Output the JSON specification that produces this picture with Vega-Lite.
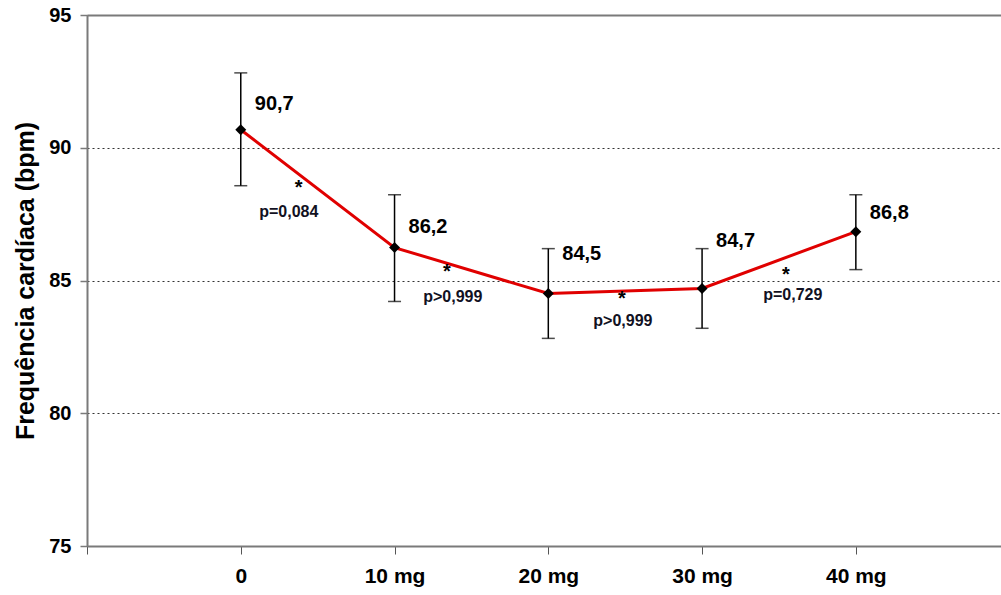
{
  "$schema": "https://vega.github.io/schema/vega-lite/v6.json",
  "autosize": "none",
  "width": 918,
  "height": 531,
  "padding": {"left": 87, "top": 15, "right": 0, "bottom": 49},
  "background": "white",
  "config": {
    "font": "Liberation Sans",
    "view": {"stroke": null},
    "axis": {"labelFont": "Liberation Sans", "titleFont": "Liberation Sans"}
  },
  "datasets": {
    "means": [
      {"dose": 0, "label": "0", "hr": 90.68, "lo": 88.57, "hi": 92.82, "text": "90,7", "ty": 91.65},
      {"dose": 1, "label": "10 mg", "hr": 86.24, "lo": 84.21, "hi": 88.23, "text": "86,2", "ty": 87.03},
      {"dose": 2, "label": "20 mg", "hr": 84.51, "lo": 82.82, "hi": 86.2, "text": "84,5", "ty": 85.98},
      {"dose": 3, "label": "30 mg", "hr": 84.7, "lo": 83.2, "hi": 86.2, "text": "84,7", "ty": 86.5},
      {"dose": 4, "label": "40 mg", "hr": 86.84, "lo": 85.41, "hi": 88.23, "text": "86,8", "ty": 87.56}
    ],
    "stars": [
      {"x": 0.377, "y": 88.68},
      {"x": 1.34, "y": 85.49},
      {"x": 2.478, "y": 84.51},
      {"x": 3.545, "y": 85.41}
    ],
    "pvals": [
      {"x": 0.312, "y": 87.59, "p": "p=0,084"},
      {"x": 1.379, "y": 84.36, "p": "p>0,999"},
      {"x": 2.485, "y": 83.46, "p": "p>0,999"},
      {"x": 3.59, "y": 84.47, "p": "p=0,729"}
    ]
  },
  "resolve": {"axis": {"x": "independent"}},
  "layer": [
    {
      "data": {"name": "means"},
      "mark": {"type": "rule", "color": "black", "strokeWidth": 1.5},
      "encoding": {
        "x": {
          "field": "dose", "type": "quantitative",
          "scale": {"domain": [-1, 4.97], "nice": false, "zero": false},
          "axis": {
            "values": [-1, 0, 1, 2, 3, 4],
            "labelExpr": "['', '0', '10 mg', '20 mg', '30 mg', '40 mg'][datum.value + 1]",
            "title": null, "grid": false,
            "domainColor": "#7a7a7a", "domainWidth": 2,
            "tickColor": "#555555", "tickWidth": 1, "tickSize": 8,
            "labelFontSize": 21, "labelFontWeight": "bold", "labelColor": "black",
            "labelPadding": 11
          }
        },
        "y": {
          "field": "lo", "type": "quantitative",
          "scale": {"domain": [75, 95], "nice": false, "zero": false},
          "axis": {
            "values": [75, 80, 85, 90, 95],
            "title": "Frequência cardíaca (bpm)",
            "titleFontSize": 25, "titleFontWeight": "bold", "titleColor": "black", "titlePadding": 10,
            "grid": true, "gridColor": "#333333", "gridDash": [2, 3], "gridWidth": 1,
            "domainColor": "#7a7a7a", "domainWidth": 2,
            "tickColor": "#7a7a7a", "tickWidth": 1.5, "tickSize": 7,
            "labelFontSize": 20, "labelFontWeight": "bold", "labelColor": "black",
            "labelPadding": 9
          }
        },
        "y2": {"field": "hi"}
      }
    },
    {
      "data": {"name": "means"},
      "mark": {"type": "tick", "orient": "horizontal", "color": "black", "size": 13, "thickness": 1.5},
      "encoding": {
        "x": {
          "field": "dose", "type": "quantitative",
          "axis": {"orient": "top", "title": null, "labels": false, "ticks": false, "grid": false, "domainColor": "#7a7a7a", "domainWidth": 2}
        },
        "y": {"field": "lo", "type": "quantitative"}
      }
    },
    {
      "data": {"name": "means"},
      "mark": {"type": "tick", "orient": "horizontal", "color": "black", "size": 13, "thickness": 1.5},
      "encoding": {"x": {"field": "dose", "type": "quantitative", "axis": null}, "y": {"field": "hi", "type": "quantitative"}}
    },
    {
      "data": {"name": "means"},
      "mark": {"type": "line", "color": "#e00000", "strokeWidth": 3},
      "encoding": {"x": {"field": "dose", "type": "quantitative", "axis": null}, "y": {"field": "hr", "type": "quantitative"}}
    },
    {
      "data": {"name": "means"},
      "mark": {"type": "point", "shape": "diamond", "filled": true, "color": "black", "size": 120, "opacity": 1},
      "encoding": {"x": {"field": "dose", "type": "quantitative", "axis": null}, "y": {"field": "hr", "type": "quantitative"}}
    },
    {
      "data": {"name": "means"},
      "mark": {"type": "text", "align": "left", "baseline": "middle", "dx": 14, "fontSize": 20, "fontWeight": "bold", "color": "black"},
      "encoding": {"x": {"field": "dose", "type": "quantitative", "axis": null}, "y": {"field": "ty", "type": "quantitative"}, "text": {"field": "text"}}
    },
    {
      "data": {"name": "stars"},
      "mark": {"type": "text", "align": "center", "baseline": "middle", "dy": 5, "fontSize": 20, "fontWeight": "bold", "color": "black"},
      "encoding": {"x": {"field": "x", "type": "quantitative", "axis": null}, "y": {"field": "y", "type": "quantitative"}, "text": {"value": "*"}}
    },
    {
      "data": {"name": "pvals"},
      "mark": {"type": "text", "align": "center", "baseline": "middle", "fontSize": 16, "fontWeight": "bold", "color": "#111122"},
      "encoding": {"x": {"field": "x", "type": "quantitative", "axis": null}, "y": {"field": "y", "type": "quantitative"}, "text": {"field": "p"}}
    }
  ]
}
